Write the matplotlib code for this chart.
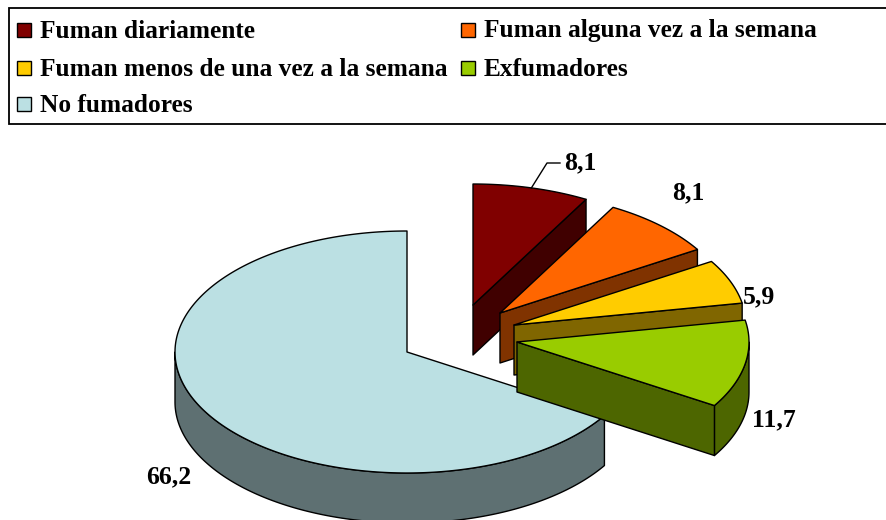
import numpy as np
import matplotlib
matplotlib.use("Agg")
import matplotlib.pyplot as plt
from matplotlib.patches import Polygon, Rectangle

# ---- data ----
categories = ["Fuman diariamente", "Fuman alguna vez a la semana",
              "Fuman menos de una vez a la semana", "Exfumadores", "No fumadores"]
values = [8.1, 8.1, 5.9, 11.7, 66.2]
value_labels = ["8,1", "8,1", "5,9", "11,7", "66,2"]

# ---- styles ----
top_colors = ["#800000", "#FF6600", "#FFCC00", "#99CC00", "#BBE0E3"]
side_colors = ["#400000", "#803300", "#806600", "#4D6600", "#5E7072"]
explode_px = [(66, -47), (93, -39), (107, -27), (110, -10), (0, 0)]
label_pos = [(580, 163), (688, 193), (759, 297), (774, 420), (169, 477)]
CX, CY = 407, 352
RX, RY = 232, 121
DEPTH = 50
FONT = ["Liberation Serif", "DejaVu Serif"]

W, H = 887, 520
fig = plt.figure(figsize=(W / 100, H / 100), dpi=100)
ax = fig.add_axes([0, 0, 1, 1])
ax.set_xlim(0, W)
ax.set_ylim(H, 0)
ax.axis("off")


def pt(cx, cy, ang, dz=0.0):
    a = np.radians(ang)
    return cx + RX * np.cos(a), cy - RY * np.sin(a) + dz


def arc(cx, cy, a1, a2, dz=0.0, n=None):
    if n is None:
        n = max(int(abs(a2 - a1) / 1.0) + 2, 3)
    angs = np.linspace(a1, a2, n)
    return [pt(cx, cy, a, dz) for a in angs]


total = float(sum(values))
cum = np.concatenate([[0.0], np.cumsum(values)])
slices = []
for i, v in enumerate(values):
    t1 = 90 - cum[i] / total * 360.0
    t2 = 90 - cum[i + 1] / total * 360.0
    slices.append((t1, t2))

order = [4, 0, 1, 2, 3]
z = 1
ec = dict(edgecolor="black", linewidth=1.0, joinstyle="round")
for i in order:
    t1, t2 = slices[i]
    cx, cy = CX + explode_px[i][0], CY + explode_px[i][1]
    # outer curved side (front half only)
    lo, hi = t2, t1
    for k in (-1, 0, 1):
        a = max(lo, -180 + 360 * k)
        b = min(hi, 0 + 360 * k)
        if b > a:
            top_arc = arc(cx, cy, a, b)
            bot_arc = arc(cx, cy, b, a, DEPTH)
            ax.add_patch(Polygon(top_arc + bot_arc, closed=True,
                                 facecolor=side_colors[i], zorder=z, **ec))
            z += 1
    # radial faces
    for ang, vis in ((t2, np.cos(np.radians(t2)) > 1e-6),
                     (t1, np.cos(np.radians(t1)) < -1e-6)):
        if vis:
            p = pt(cx, cy, ang)
            quad = [(cx, cy), p, (p[0], p[1] + DEPTH), (cx, cy + DEPTH)]
            ax.add_patch(Polygon(quad, closed=True,
                                 facecolor=side_colors[i], zorder=z, **ec))
            z += 1
    # top face
    top = [(cx, cy)] + arc(cx, cy, t1, t2)
    ax.add_patch(Polygon(top, closed=True, facecolor=top_colors[i],
                         zorder=z, **ec))
    z += 1

# value labels
for i, lab in enumerate(value_labels):
    ax.text(label_pos[i][0], label_pos[i][1], lab, ha="center", va="center",
            fontsize=18.5, fontweight="bold", family=FONT, zorder=50)

# leader line for first label
t1, t2 = slices[0]
cx0, cy0 = CX + explode_px[0][0], CY + explode_px[0][1]
mx, my = pt(cx0, cy0, (t1 + t2) / 2)
ax.plot([label_pos[0][0] - 20, label_pos[0][0] - 33, mx],
        [label_pos[0][1], label_pos[0][1], my], color="black", lw=1.0,
        zorder=50)

# legend (manual)
ax.add_patch(Rectangle((9, 8), W + 10, 116, facecolor="white",
                       edgecolor="black", linewidth=1.3, zorder=60))
leg_x = [17, 461]
leg_y = [30, 68, 104]
for i, name in enumerate(categories):
    col = i % 2
    row = i // 2
    x0, y0 = leg_x[col], leg_y[row]
    ax.add_patch(Rectangle((x0, y0 - 7), 14, 14, facecolor=top_colors[i],
                           edgecolor="black", linewidth=1.0, zorder=61))
    ax.text(x0 + 23, y0 + 1, name, ha="left", va="center", fontsize=18.3,
            fontweight="bold", family=FONT, zorder=62)

fig.savefig("out.png", dpi=100)
